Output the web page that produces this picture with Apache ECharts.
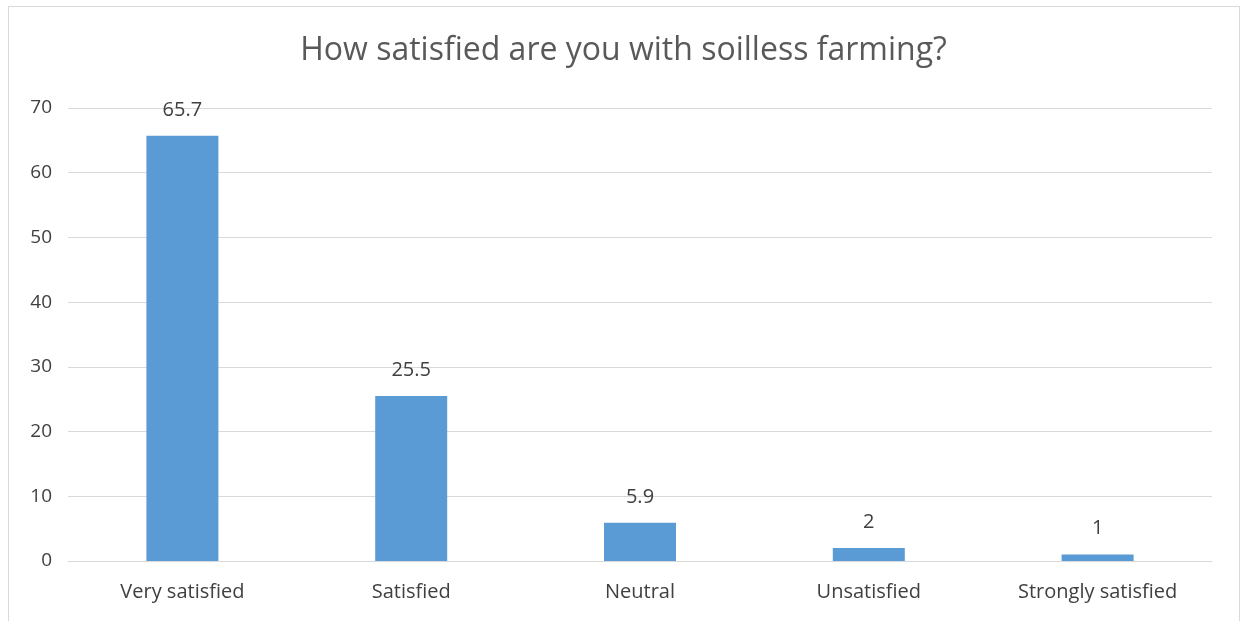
<!DOCTYPE html>
<html>
<head>
<meta charset="utf-8">
<script src="https://cdn.jsdelivr.net/npm/echarts@6/dist/echarts.min.js"></script>
<style>
  html, body { margin: 0; padding: 0; background: #fff; overflow: hidden; }
  #frame {
    position: absolute; left: 8px; top: 6px; width: 1232px; height: 640px;
    border: 1px solid #d9d9d9; box-sizing: border-box;
  }
  #chart { position: absolute; left: 0; top: 0; width: 1247px; height: 621px; }
</style>
</head>
<body>
<div id="frame"></div>
<div id="chart"></div>
<script>
const categories = ["Very satisfied", "Satisfied", "Neutral", "Unsatisfied", "Strongly satisfied"];
const values = [65.7, 25.5, 5.9, 2, 1];
const yTicks = [0, 10, 20, 30, 40, 50, 60, 70];

const textFont = "'Open Sans', 'Liberation Sans', sans-serif";
const chart = echarts.init(document.getElementById("chart"));

const option = {
  animation: false,
  title: {
    text: "How satisfied are you with soilless farming?",
    left: "center",
    top: 30,
    textStyle: { color: "#595959", fontSize: 32, fontWeight: "normal", fontFamily: textFont }
  },
  grid: { left: 68, right: 35, top: 108, bottom: 60 },
  xAxis: {
    type: "category",
    data: categories,
    axisLine: { lineStyle: { color: "#d9d9d9" } },
    axisTick: { show: false },
    axisLabel: { color: "#404040", fontSize: 20, fontFamily: textFont, margin: 21 }
  },
  yAxis: {
    type: "value",
    min: yTicks[0],
    max: yTicks[yTicks.length - 1],
    interval: 10,
    axisLine: { show: false },
    axisTick: { show: false },
    splitLine: { lineStyle: { color: "#d9d9d9", width: 1 } },
    axisLabel: { color: "#404040", fontSize: 19, fontFamily: textFont, margin: 16 }
  },
  series: [
    {
      type: "bar",
      data: values,
      barWidth: 72,
      itemStyle: { color: "#5b9bd5" },
      label: {
        show: true,
        position: "top",
        distance: 16,
        color: "#404040",
        fontSize: 20,
        fontFamily: textFont
      }
    }
  ]
};

chart.setOption(option);
</script>
</body>
</html>
